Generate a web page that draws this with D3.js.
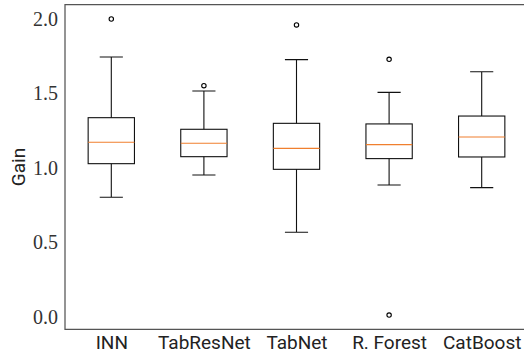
<!DOCTYPE html>
<html>
<head>
<meta charset="utf-8">
<script src="https://cdn.jsdelivr.net/npm/d3@7"></script>
<style>
  html, body { margin: 0; padding: 0; background: #fff; }
  svg { display: block; }
</style>
</head>
<body>
<svg id="chart" width="524" height="354"></svg>
<script>
'use strict';

// values
var categories = ['INN', 'TabResNet', 'TabNet', 'R. Forest', 'CatBoost'];
var whiskerLow = [0.802, 0.952, 0.567, 0.885, 0.867];
var quartile1 = [1.028, 1.075, 0.990, 1.062, 1.073];
var medians = [1.172, 1.165, 1.131, 1.156, 1.207];
var quartile3 = [1.337, 1.259, 1.299, 1.295, 1.348];
var whiskerHigh = [1.745, 1.516, 1.727, 1.507, 1.646];
var outliers = [[2.0], [1.552], [1.960], [1.729, 0.011], []];
var yTicks = [0.0, 0.5, 1.0, 1.5, 2.0];

(function () {
    var svg = d3.select('#chart');

    var plotLeft = 65;
    var plotRight = 528;
    var plotTop = 4.7;
    var plotBottom = 329.3;

    var x = d3.scaleLinear().domain([0.5, 5.5]).range([plotLeft, plotRight]);
    var y = d3.scaleLinear().domain([-0.0847, 2.096]).range([plotBottom, plotTop]);

    var boxes = categories.map(function (name, i) {
        return {
            name: name,
            pos: i + 1,
            lo: whiskerLow[i],
            q1: quartile1[i],
            med: medians[i],
            q3: quartile3[i],
            hi: whiskerHigh[i],
            fliers: outliers[i]
        };
    });

    var halfBox = 0.25;
    var halfCap = 0.125;

    var g = svg.append('g');

    // whiskers
    g.selectAll('.whisker')
        .data(boxes)
        .enter()
        .append('path')
        .attr('class', 'whisker')
        .attr('d', function (d) {
            var cx = x(d.pos);
            return 'M' + cx + ',' + y(d.q1) + 'V' + y(d.lo) +
                'M' + cx + ',' + y(d.q3) + 'V' + y(d.hi) +
                'M' + x(d.pos - halfCap) + ',' + y(d.lo) + 'H' + x(d.pos + halfCap) +
                'M' + x(d.pos - halfCap) + ',' + y(d.hi) + 'H' + x(d.pos + halfCap);
        })
        .attr('fill', 'none')
        .attr('stroke', '#111')
        .attr('stroke-width', 1.1);

    // boxes
    g.selectAll('.box')
        .data(boxes)
        .enter()
        .append('rect')
        .attr('class', 'box')
        .attr('x', function (d) { return x(d.pos - halfBox); })
        .attr('y', function (d) { return y(d.q3); })
        .attr('width', function (d) { return x(d.pos + halfBox) - x(d.pos - halfBox); })
        .attr('height', function (d) { return y(d.q1) - y(d.q3); })
        .attr('fill', 'none')
        .attr('stroke', '#111')
        .attr('stroke-width', 1.1);

    // medians
    g.selectAll('.median')
        .data(boxes)
        .enter()
        .append('line')
        .attr('class', 'median')
        .attr('x1', function (d) { return x(d.pos - halfBox); })
        .attr('x2', function (d) { return x(d.pos + halfBox); })
        .attr('y1', function (d) { return y(d.med); })
        .attr('y2', function (d) { return y(d.med); })
        .attr('stroke', '#f07f2e')
        .attr('stroke-width', 1.1);

    // fliers
    var fliers = [];
    boxes.forEach(function (d) {
        d.fliers.forEach(function (v) {
            fliers.push({pos: d.pos, v: v});
        });
    });

    g.selectAll('.flier')
        .data(fliers)
        .enter()
        .append('circle')
        .attr('class', 'flier')
        .attr('cx', function (d) { return x(d.pos); })
        .attr('cy', function (d) { return y(d.v); })
        .attr('r', 2.2)
        .attr('fill', 'none')
        .attr('stroke', '#000')
        .attr('stroke-width', 1.1);

    // spines
    svg.append('path')
        .attr('d', 'M' + plotLeft + ',' + plotTop + 'H' + plotRight + 'V' + plotBottom + 'H' + plotLeft + 'Z')
        .attr('fill', 'none')
        .attr('stroke', '#555')
        .attr('stroke-width', 1.25);

    // y axis tick labels
    var yAxis = d3.axisLeft(y)
        .tickValues(yTicks)
        .tickSize(0)
        .tickPadding(7)
        .tickFormat(d3.format('.1f'));

    var yAx = svg.append('g')
        .attr('transform', 'translate(' + plotLeft + ',0)')
        .call(yAxis);
    yAx.select('.domain').remove();
    yAx.selectAll('text')
        .attr('font-family', '"Liberation Serif", serif')
        .attr('font-size', 20)
        .attr('fill', '#333');

    // x axis tick labels
    var xAxis = d3.axisBottom(x)
        .tickValues(boxes.map(function (d) { return d.pos; }))
        .tickSize(0)
        .tickPadding(6)
        .tickFormat(function (d) { return categories[d - 1]; });

    var xAx = svg.append('g')
        .attr('transform', 'translate(0,' + plotBottom + ')')
        .call(xAxis);
    xAx.select('.domain').remove();
    xAx.selectAll('text')
        .attr('font-family', 'Roboto, sans-serif')
        .attr('font-size', 19)
        .attr('fill', '#222');

    // y label
    svg.append('text')
        .attr('transform', 'translate(25,' + ((plotTop + plotBottom) / 2) + ') rotate(-90)')
        .attr('text-anchor', 'middle')
        .attr('font-family', 'Roboto, sans-serif')
        .attr('font-size', 19)
        .attr('fill', '#222')
        .text('Gain');
})();
</script>
</body>
</html>
